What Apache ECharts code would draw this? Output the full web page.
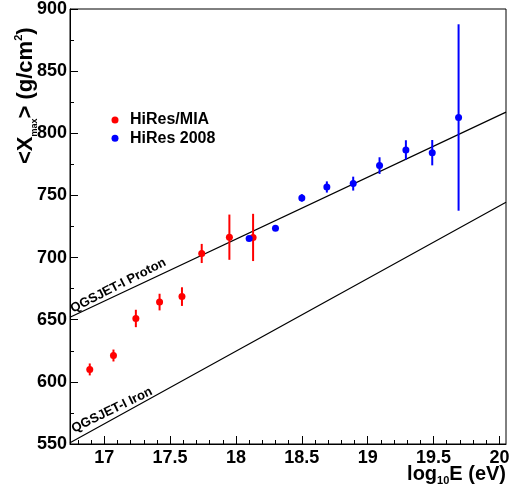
<!DOCTYPE html>
<html>
<head>
<meta charset="utf-8">
<script src="https://cdn.jsdelivr.net/npm/echarts@6/dist/echarts.min.js"></script>
<style>
  html, body { margin: 0; padding: 0; background: #fff; }
  #chart { width: 518px; height: 488px; }
</style>
</head>
<body>
<div id="chart"></div>
<script>
// HiRes/MIA measurements: log10(E/eV), <Xmax> (g/cm^2), statistical error
const miaE   = [16.89, 17.07, 17.24, 17.42, 17.59, 17.74, 17.95, 18.13];
const miaX   = [610.0, 621.2, 651.0, 664.2, 668.6, 703.3, 716.4, 716.2];
const miaErr = [4.8, 4.8, 7.0, 6.7, 7.5, 7.7, 18.2, 19.0];

// HiRes stereo 2008 measurements
const hiresE   = [18.10, 18.30, 18.50, 18.69, 18.89, 19.09, 19.29, 19.49, 19.69];
const hiresX   = [715.4, 723.5, 748.0, 756.8, 759.5, 774.0, 786.6, 784.4, 812.7];
const hiresErr = [1.5, 1.0, 3.0, 4.5, 5.6, 6.7, 7.8, 10.2, 75.0];

// QGSJET-I model predictions (straight lines across the axis range)
const modelE  = [16.74, 20.05];
const protonX = [652.0, 817.0];
const ironX   = [551.0, 744.5];

// Axis ticks
const xMajorTicks = [17, 17.5, 18, 18.5, 19, 19.5, 20];
const xMinorTicks = [16.8, 16.9, 17.1, 17.2, 17.3, 17.4, 17.6, 17.7, 17.8, 17.9,
                     18.1, 18.2, 18.3, 18.4, 18.6, 18.7, 18.8, 18.9,
                     19.1, 19.2, 19.3, 19.4, 19.6, 19.7, 19.8, 19.9];
const xRange = [16.74, 20.05];
const yRange = [550, 900];

// Label anchors for the model lines
const protonLabelAt = [16.772, 653.5];
const ironLabelAt   = [16.78, 557.0];

const FONT = '"Liberation Sans", Arial, Helvetica, sans-serif';

const pairs = (xs, ys) => xs.map((x, i) => [x, ys[i]]);
const errRows = (xs, ys, es) => xs.map((x, i) => [x, ys[i], ys[i] - es[i], ys[i] + es[i]]);

function errorBars(color) {
  return function (params, api) {
    const x = api.value(0);
    const lo = api.coord([x, api.value(2)]);
    const hi = api.coord([x, api.value(3)]);
    return {
      type: 'line',
      shape: { x1: lo[0], y1: lo[1], x2: hi[0], y2: hi[1] },
      style: { stroke: color, lineWidth: 2 }
    };
  };
}

const chart = echarts.init(document.getElementById('chart'), null, { renderer: 'canvas' });

const modelLabel = (angle) => ({
  show: true, position: [0, 0], rotate: angle, align: 'left', verticalAlign: 'bottom',
  formatter: p => p.name,
  fontFamily: FONT, fontWeight: 'bold', fontSize: 13, color: '#000', opacity: 1
});

const option = {
  animation: false,
  backgroundColor: '#ffffff',
  grid: {
    left: 70, right: 12, top: 8, bottom: 44,
    show: true, borderColor: '#000', borderWidth: 1, backgroundColor: 'transparent'
  },
  legend: {
    orient: 'vertical',
    left: 106.5, top: 107,
    icon: 'circle',
    itemWidth: 20, itemHeight: 7,
    itemGap: 2.3,
    data: ['HiRes/MIA', 'HiRes 2008'],
    textStyle: { fontFamily: FONT, fontWeight: 'bold', fontSize: 16, color: '#000', lineHeight: 16 }
  },
  xAxis: [
    {
      type: 'value', min: xRange[0], max: xRange[1],
      axisLine: { show: true, lineStyle: { color: '#000', width: 1 } },
      splitLine: { show: false },
      axisTick: { show: true, inside: true, length: 8, customValues: xMajorTicks, lineStyle: { color: '#000' } },
      axisLabel: {
        show: true, customValues: xMajorTicks, margin: 5,
        fontFamily: FONT, fontWeight: 'bold', fontSize: 18, color: '#000',
        formatter: v => String(v)
      }
    },
    {
      type: 'value', min: xRange[0], max: xRange[1], position: 'bottom',
      axisLine: { show: false },
      splitLine: { show: false },
      axisTick: { show: true, inside: true, length: 4, customValues: xMinorTicks, lineStyle: { color: '#000' } },
      axisLabel: { show: false }
    }
  ],
  yAxis: {
    type: 'value', min: yRange[0], max: yRange[1], interval: 50,
    axisLine: { show: true, lineStyle: { color: '#000', width: 1 } },
    splitLine: { show: false },
    axisTick: { show: true, inside: true, length: 8, lineStyle: { color: '#000' } },
    minorTick: { show: true, splitNumber: 2, length: 4, lineStyle: { color: '#000' } },
    axisLabel: {
      margin: 3, fontFamily: FONT, fontWeight: 'bold', fontSize: 18, color: '#000'
    }
  },
  graphic: [
    {
      // y-axis title, rotated
      type: 'text', x: 26, y: 164, rotation: Math.PI / 2,
      style: {
        text: '{b|<X}{s|max}{b|> (g/cm}{p|2}{b|)}',
        textAlign: 'left', textVerticalAlign: 'middle',
        fill: '#000',
        rich: {
          b: { fontFamily: FONT, fontWeight: 'bold', fontSize: 22, lineHeight: 26, fill: '#000' },
          s: { fontFamily: FONT, fontWeight: 'bold', fontSize: 9, lineHeight: 9, verticalAlign: 'bottom', fill: '#000' },
          p: { fontFamily: FONT, fontWeight: 'bold', fontSize: 11, lineHeight: 11, verticalAlign: 'top', fill: '#000' }
        }
      }
    },
    {
      // x-axis title, right aligned to the frame
      type: 'text', x: 506, y: 474,
      style: {
        text: '{b|log}{s|10}{b|E (eV)}',
        textAlign: 'right', textVerticalAlign: 'middle',
        fill: '#000',
        rich: {
          b: { fontFamily: FONT, fontWeight: 'bold', fontSize: 20, lineHeight: 24, fill: '#000' },
          s: { fontFamily: FONT, fontWeight: 'bold', fontSize: 11, lineHeight: 10, verticalAlign: 'bottom', fill: '#000' }
        }
      }
    }
  ],
  series: [
    {
      name: 'QGSJET-I Proton', type: 'line', silent: true,
      data: pairs(modelE, protonX), symbol: 'none',
      lineStyle: { color: '#000', width: 1.2 }, z: 1
    },
    {
      name: 'QGSJET-I Iron', type: 'line', silent: true,
      data: pairs(modelE, ironX), symbol: 'none',
      lineStyle: { color: '#000', width: 1.2 }, z: 1
    },
    {
      name: 'model labels', type: 'scatter', silent: true, symbolSize: 0,
      itemStyle: { opacity: 1 },
      data: [
        { value: protonLabelAt, name: 'QGSJET-I Proton', label: modelLabel(27) },
        { value: ironLabelAt, name: 'QGSJET-I Iron', label: modelLabel(26) }
      ],
      label: modelLabel(27),
      z: 2
    },
    {
      name: 'HiRes/MIA errors', type: 'custom', silent: true,
      renderItem: errorBars('#ff0000'),
      data: errRows(miaE, miaX, miaErr), z: 3
    },
    {
      name: 'HiRes 2008 errors', type: 'custom', silent: true,
      renderItem: errorBars('#0000ff'),
      data: errRows(hiresE, hiresX, hiresErr), z: 3
    },
    {
      name: 'HiRes/MIA', type: 'scatter', symbol: 'circle', symbolSize: 7,
      itemStyle: { color: '#ff0000', opacity: 1 },
      data: pairs(miaE, miaX), z: 4
    },
    {
      name: 'HiRes 2008', type: 'scatter', symbol: 'circle', symbolSize: 7,
      itemStyle: { color: '#0000ff', opacity: 1 },
      data: pairs(hiresE, hiresX), z: 4
    }
  ]
};

chart.setOption(option);
</script>
</body>
</html>
